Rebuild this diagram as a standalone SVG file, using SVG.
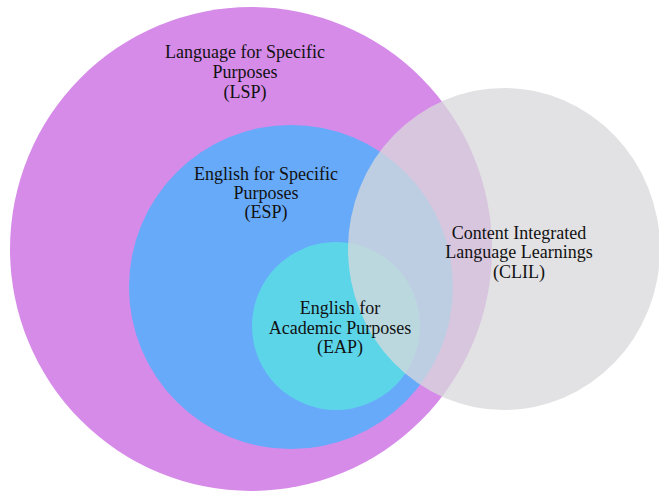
<svg xmlns="http://www.w3.org/2000/svg" width="659" height="494" viewBox="0 0 659 494">
<style>
text{font-family:"Liberation Serif","Times New Roman",serif;font-size:18px;fill:#111111;text-anchor:middle}
</style>
<rect width="659" height="494" fill="#ffffff"/>
<g id="lsp"><ellipse cx="251" cy="249" rx="241" ry="242" fill="#d68be9"/></g>
<g id="esp"><ellipse cx="291" cy="287" rx="162" ry="162" fill="#67aaf9"/></g>
<g id="eap"><ellipse cx="336" cy="326" rx="84" ry="84" fill="#5dd5e9"/></g>
<g id="clil"><ellipse cx="504" cy="249" rx="156" ry="161" fill="#d9d9db" fill-opacity="0.76"/></g>
<g id="labels">
<text x="245" y="58">Language for Specific</text>
<text x="245" y="78">Purposes</text>
<text x="245" y="98">(LSP)</text>
<text x="266" y="180">English for Specific</text>
<text x="266" y="199">Purposes</text>
<text x="266" y="218">(ESP)</text>
<text x="340" y="314">English for</text>
<text x="340" y="334">Academic Purposes</text>
<text x="340" y="353">(EAP)</text>
<text x="519" y="239">Content Integrated</text>
<text x="519" y="258">Language Learnings</text>
<text x="519" y="278">(CLIL)</text>
</g>
<g id="connectors"/>
</svg>
